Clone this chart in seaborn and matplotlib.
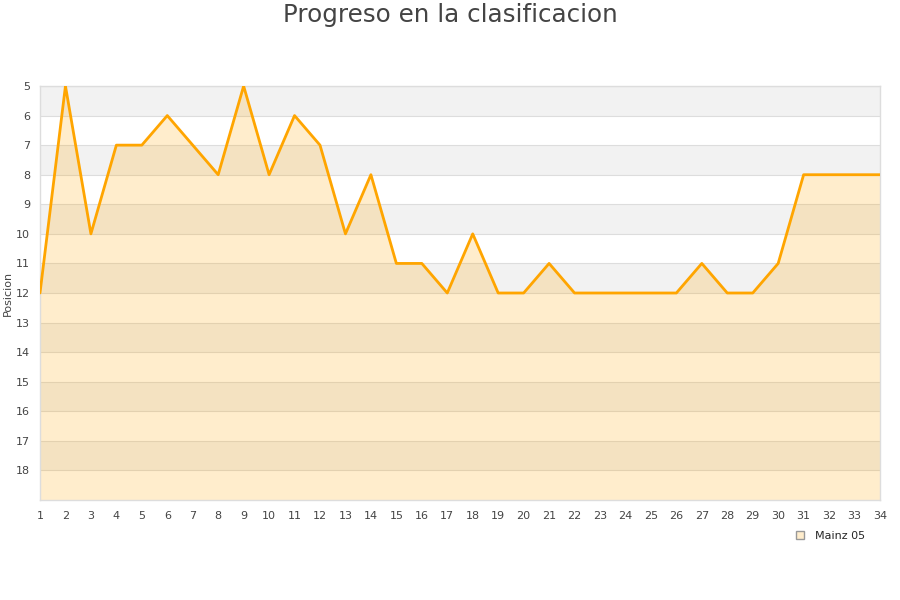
import matplotlib
matplotlib.use("Agg")
import matplotlib.pyplot as plt
import seaborn as sns
import pandas as pd

# Data
jornadas = list(range(1, 35))
posiciones = [12, 5, 10, 7, 7, 6, 7, 8, 5, 8, 6, 7, 10, 8, 11, 11, 12, 10, 12, 12,
              11, 12, 12, 12, 12, 12, 11, 12, 12, 11, 8, 8, 8, 8]
equipo = "Mainz 05"

df = pd.DataFrame({"jornada": jornadas, "posicion": posiciones})

sns.set_style("white")
plt.rcParams['font.family'] = ['DejaVu Sans']

fig = plt.figure(figsize=(9, 6), dpi=100)
ax = fig.add_axes([40 / 900, 100 / 600, 840 / 900, 414 / 600])

# alternating bands
for y in range(5, 19):
    color = "#f2f2f2" if (y - 5) % 2 == 0 else "white"
    ax.axhspan(y, y + 1, color=color, zorder=0, lw=0)
    ax.axhline(y, color="#dddddd", lw=0.8, zorder=1)

ax.fill_between(df["jornada"], df["posicion"], 19, color="#ffa500", alpha=0.2,
                lw=0, zorder=2)
sns.lineplot(data=df, x="jornada", y="posicion", color="#ffa500", lw=2, ax=ax,
             zorder=3)

ax.set_xlim(1, 34)
ax.set_ylim(19, 5)
ax.set_xticks(jornadas)
ax.set_yticks(range(5, 19))
ax.tick_params(axis="both", length=0, labelsize=8, colors="#444444")
ax.tick_params(axis="x", pad=8)
ax.tick_params(axis="y", pad=7)
ax.set_xlabel("")
ax.set_ylabel("Posicion", fontsize=8, color="#444444", labelpad=2)
for s in ax.spines.values():
    s.set_color("#dddddd")
    s.set_linewidth(1)

fig.suptitle("Progreso en la clasificacion", y=0.995, fontsize=17.7, color="#444444")

handle = plt.Line2D([0], [0], marker="s", color="none", markerfacecolor="#ffedcc",
                    markeredgecolor="#999999", markersize=6, label=equipo)
fig.legend(handles=[handle], loc="center", bbox_to_anchor=(827 / 900, 1 - 536 / 600),
           frameon=False, fontsize=8, handletextpad=0.3)

fig.savefig("out.png", dpi=100)
